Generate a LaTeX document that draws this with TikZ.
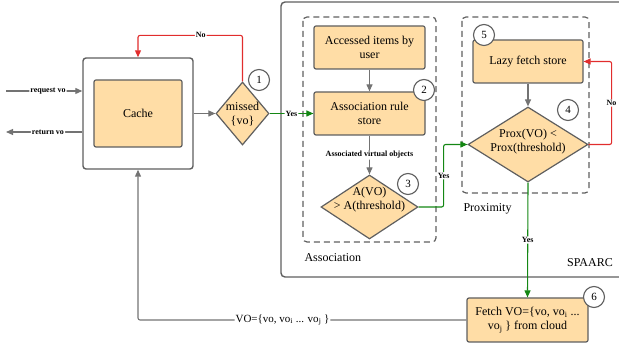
\documentclass[tikz,border=0pt]{standalone}
\usepackage{fontspec}
\setmainfont{Liberation Serif}
\usetikzlibrary{arrows.meta, shapes.geometric}
\definecolor{boxfill}{RGB}{255,221,166}
\definecolor{linegray}{RGB}{95,95,95}
\definecolor{arrowgray}{RGB}{115,115,115}
\definecolor{yesgreen}{RGB}{20,135,20}
\definecolor{nored}{RGB}{225,45,45}
\tikzset{
  stepbox/.style={draw=linegray, fill=boxfill, line width=1.2pt, rounded corners=2pt, align=center, font=\fontsize{12}{14}\selectfont},
  test/.style={diamond, draw=linegray, fill=boxfill, line width=1.2pt, inner sep=0pt},
  testtext/.style={align=center, font=\fontsize{12}{14}\selectfont},
  num/.style={circle, draw=linegray, fill=white, line width=1.1pt, minimum size=21pt, inner sep=0pt, font=\fontsize{11}{11}\selectfont},
  group/.style={draw=linegray, line width=1.2pt, dash pattern=on 6pt off 4pt, rounded corners=4pt},
  frame/.style={draw=linegray, line width=1.4pt, rounded corners=4pt},
  caption/.style={font=\fontsize{12}{14}\selectfont},
  flowlabel/.style={font=\bfseries\fontsize{8}{9}\selectfont, fill=white, inner sep=1pt},
  flow/.style={draw=arrowgray, line width=1.1pt, rounded corners=2pt, -{Triangle[length=7pt,width=6pt]}},
  yesflow/.style={flow, draw=yesgreen},
  noflow/.style={flow, draw=nored}
}

\begin{document}
\begin{tikzpicture}[x=1pt, y=-1pt]
\useasboundingbox (0,0) rectangle (619,352);
\draw[frame] (619,2) -| (281,277) -- (619,277);
\node[caption] (spaarc) at (590,263) {SPAARC};
\draw[group] (303,17) rectangle (436,242);
\draw[group] (462,17) rectangle (589,193);
\node[caption, anchor=west] (assocLabel) at (301,258) {Association};
\node[caption, anchor=west] (proxLabel) at (460,209) {Proximity};

\node[draw=linegray, fill=white, line width=1.4pt, rounded corners=3pt, minimum width=110pt, minimum height=111pt] (cacheFrame) at (138,113.5) {};
\node[stepbox, minimum width=88pt, minimum height=67pt] (cacheBox) at (138,113.5) {Cache};
\node[test, minimum width=53pt, minimum height=63pt] (miss) at (242.5,113.5) {};
\node[testtext] (missText) at (242.5,114) {missed\\\{vo\}};

\node[stepbox, minimum width=111pt, minimum height=43pt] (acc) at (369.5,47.5) {Accessed items by\\user};
\node[stepbox, minimum width=111pt, minimum height=43pt] (rule) at (369.5,113.5) {Association rule\\store};
\node[test, minimum width=97pt, minimum height=64pt] (avo) at (369.5,207) {};
\node[testtext] (avoText) at (369.5,200) {A(VO)\\> A(threshold)};

\node[stepbox, minimum width=110pt, minimum height=43pt] (lazy) at (528,61.5) {Lazy fetch store};
\node[test, minimum width=120pt, minimum height=75pt] (prox) at (528,144.5) {};
\node[testtext] (proxText) at (528,142) {Prox(VO) <\\Prox(threshold)};

\node[stepbox, minimum width=121pt, minimum height=44pt] (fetch) at (527.5,320) {Fetch VO=\{vo, vo\textsubscript{i} ...\\vo\textsubscript{j} \} from cloud};

\coordinate (reqIn) at (6,91);
\coordinate (retOut) at (6,132);
\draw[flow] (reqIn) -- (reqIn -| cacheFrame.west) node[pos=0.55, flowlabel] {request vo};
\draw[flow] (retOut -| cacheFrame.west) -- (retOut) node[pos=0.45, flowlabel] {return vo};
\draw[flow] (cacheFrame.east) -- (miss.west);
\draw[noflow] (miss.north) -- ++(0,-46) -| (cacheFrame.north) node[pos=0.2, flowlabel] {No};
\draw[yesflow] (miss.east) -- (rule.west) node[midway, flowlabel] {Yes};
\draw[flow] (acc) -- (rule);
\draw[flow] (rule) -- (avo) node[midway, flowlabel] {Associated virtual objects};
\draw[yesflow] (avo.east) -- ++(25,0) |- (prox.west) node[pos=0.25, flowlabel] {Yes};
\draw[flow] (lazy) -- (prox);
\draw[noflow] (prox.east) -- ++(23,0) |- (lazy.east) node[pos=0.25, flowlabel] {No};
\draw[yesflow] (prox.south) -- (fetch.north) node[midway, flowlabel] {Yes};
\draw[flow] (fetch.west) -| (cacheFrame.south) node[pos=0.28, fill=white, inner sep=1pt, font=\fontsize{11}{12}\selectfont] {VO=\{vo, vo\textsubscript{i} ... vo\textsubscript{j} \}};

\node[num] (n1) at (259,80) {1};
\node[num] (n2) at (424,90) {2};
\node[num] (n3) at (408,184) {3};
\node[num] (n4) at (568,110) {4};
\node[num] (n5) at (484,35) {5};
\node[num] (n6) at (594,297) {6};
\end{tikzpicture}
\end{document}
